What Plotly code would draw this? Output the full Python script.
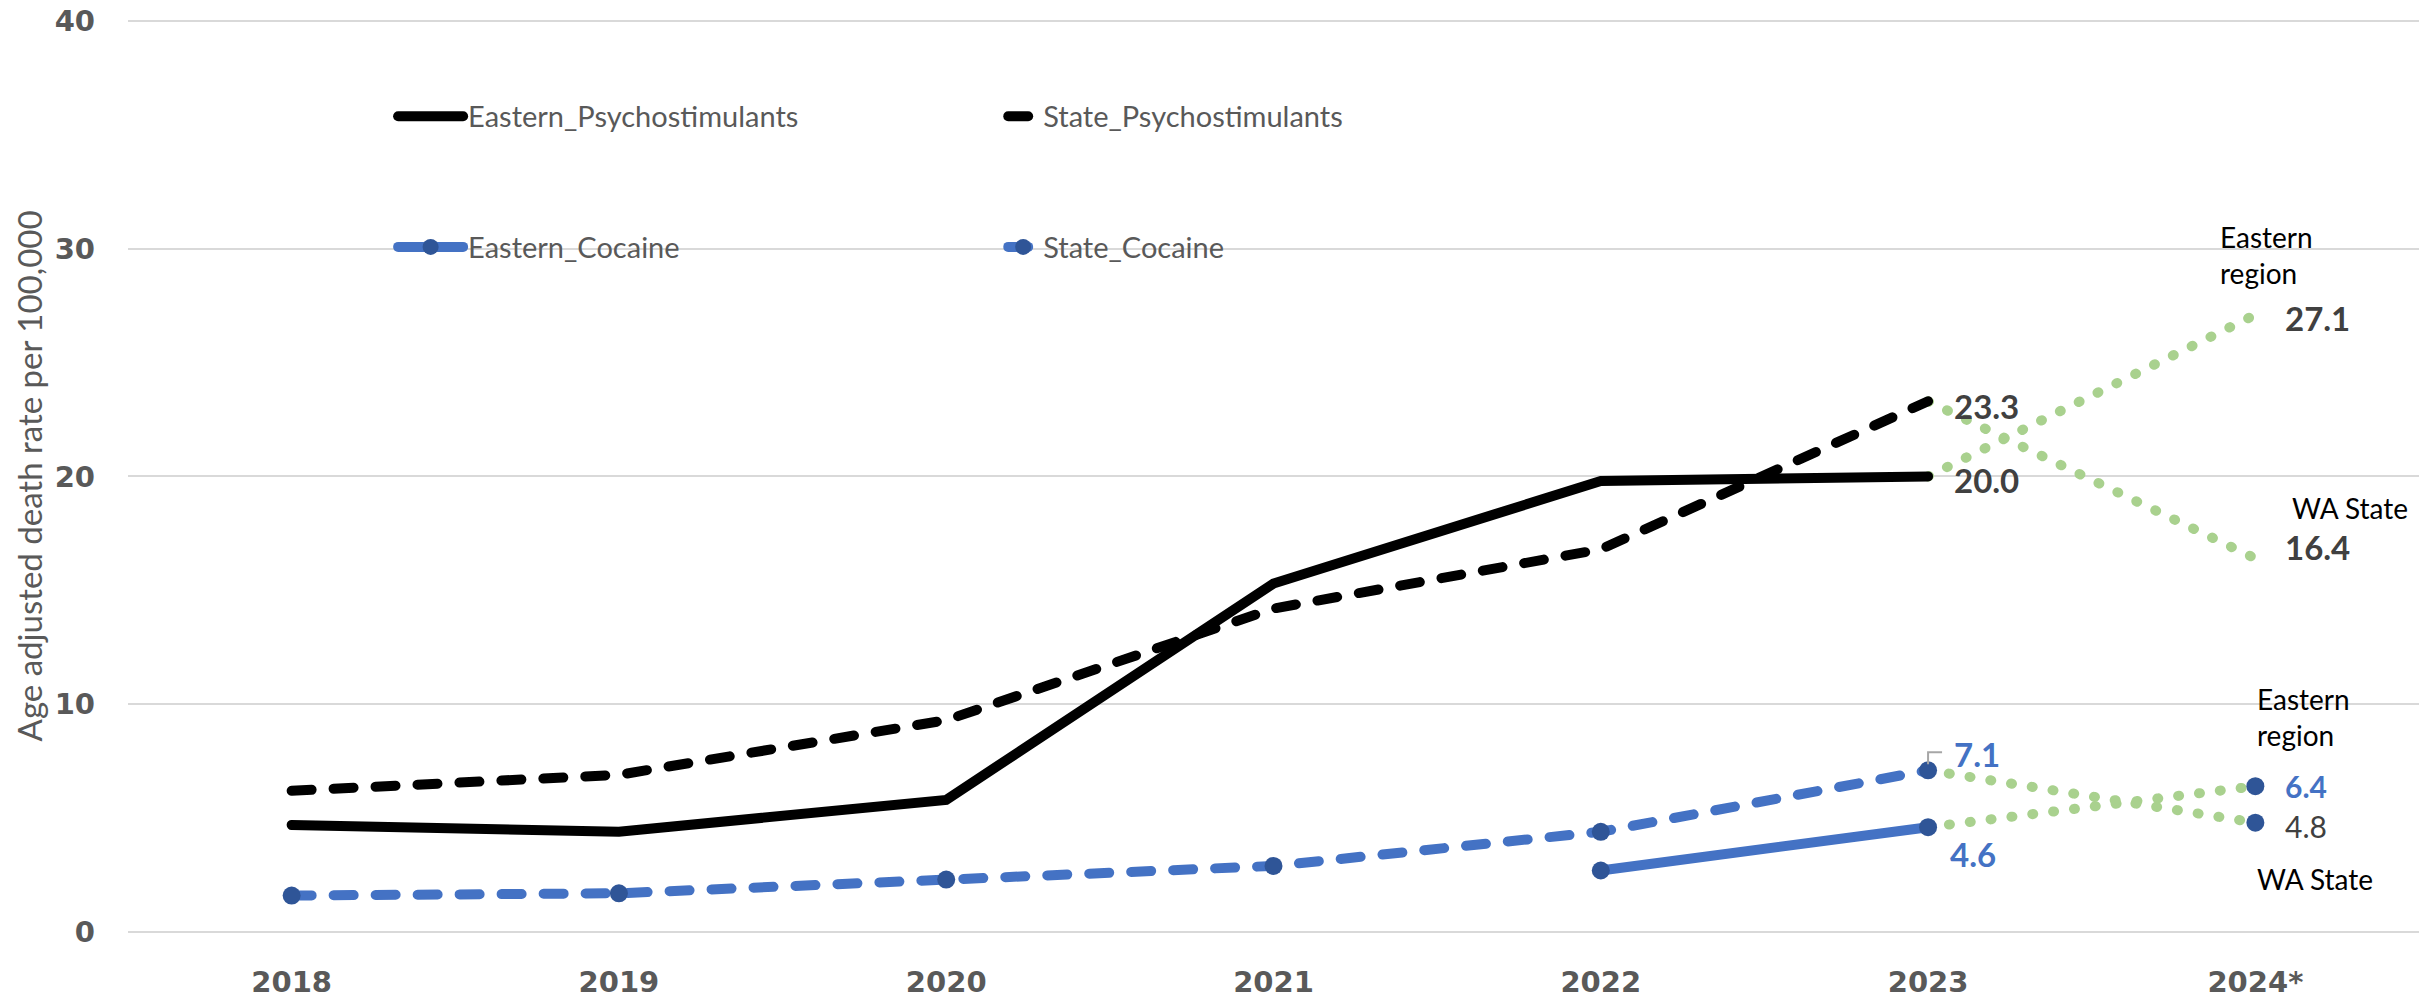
import plotly.graph_objects as go

# ---------------- data ----------------
years = ["2018", "2019", "2020", "2021", "2022", "2023", "2024*"]
hist_years = years[:6]
proj_years = ["2023", "2024*"]

eastern_psycho = [4.7, 4.4, 5.8, 15.3, 19.8, 20.0]
state_psycho = [6.2, 6.9, 9.3, 14.2, 16.8, 23.3]
state_cocaine = [1.6, 1.7, 2.3, 2.9, 4.4, 7.1]
eastern_cocaine_years = ["2022", "2023"]
eastern_cocaine = [2.7, 4.6]

proj_eastern_psycho = [20.0, 27.1]
proj_state_psycho = [23.3, 16.4]
proj_eastern_cocaine = [4.6, 6.4]
proj_state_cocaine = [7.1, 4.8]

y_ticks = [0, 10, 20, 30, 40]

BLACK = "#000000"
BLUE = "#4472C4"
DARKBLUE = "#2F5597"
GREEN = "#A9D18E"
GRAY = "#595959"
DGRAY = "#404040"

TXT = "Lato"
NUM = "DejaVu Sans"

I23 = years.index("2023")
I24 = years.index("2024*")

fig = go.Figure()

# projections (green dotted)
for ys in (proj_eastern_psycho, proj_state_psycho, proj_eastern_cocaine, proj_state_cocaine):
    fig.add_trace(go.Scatter(x=proj_years, y=ys, mode="lines",
                             line=dict(color=GREEN, width=10, dash="1px,20px"),
                             showlegend=False, hoverinfo="skip"))

# main series
fig.add_trace(go.Scatter(x=hist_years, y=eastern_psycho, name="Eastern_Psychostimulants",
                         mode="lines", line=dict(color=BLACK, width=10),
                         legend="legend", legendgroup="a"))
fig.add_trace(go.Scatter(x=eastern_cocaine_years, y=eastern_cocaine, name="Eastern_Cocaine",
                         mode="lines+markers", line=dict(color=BLUE, width=10),
                         marker=dict(color=DARKBLUE, size=18),
                         legend="legend", legendgroup="b"))
fig.add_trace(go.Scatter(x=hist_years, y=state_psycho, name="State_Psychostimulants",
                         mode="lines", line=dict(color=BLACK, width=10, dash="20px,22px"),
                         legend="legend2", legendgroup="c"))
fig.add_trace(go.Scatter(x=hist_years, y=state_cocaine, name="State_Cocaine",
                         mode="lines+markers", line=dict(color=BLUE, width=10, dash="20px,22px"),
                         marker=dict(color=DARKBLUE, size=18),
                         legend="legend2", legendgroup="d"))
# 2024 cocaine projection end points
fig.add_trace(go.Scatter(x=[proj_years[-1], proj_years[-1]],
                         y=[proj_eastern_cocaine[-1], proj_state_cocaine[-1]],
                         mode="markers", marker=dict(color=DARKBLUE, size=18),
                         showlegend=False, hoverinfo="skip"))

# ---------------- labels ----------------
ann = []
def lab(x, y, text, color, bold=True, xshift=0, yshift=0, xanchor="left", size=33, family=TXT):
    ann.append(dict(x=x, y=y, xref="x", yref="y", text=text, showarrow=False,
                    xanchor=xanchor, yanchor="middle", xshift=xshift, yshift=yshift,
                    align="left",
                    font=dict(family=family, size=size, color=color,
                              weight="bold" if bold else "normal")))

lab(I23, state_psycho[-1], "23.3", DGRAY, xshift=24, yshift=-5)
lab(I23, eastern_psycho[-1], "20.0", DGRAY, xshift=24, yshift=-4)
lab(I24, proj_eastern_psycho[-1], "27.1", DGRAY, xshift=28, yshift=-3)
lab(I24, proj_state_psycho[-1], "16.4", DGRAY, xshift=28, yshift=11)
lab(I24, proj_eastern_psycho[-1], "Eastern<br>region", "#000000", bold=False,
    xshift=-37, yshift=60, size=28)
lab(I24, proj_state_psycho[-1], "WA State", "#000000", bold=False,
    xshift=35, yshift=50, size=28)

lab(I23, state_cocaine[-1], "7.1", BLUE, xshift=24, yshift=16)
lab(I23, eastern_cocaine[-1], "4.6", BLUE, xshift=20, yshift=-27)
lab(I24, proj_eastern_cocaine[-1], "6.4", BLUE, xshift=28, yshift=0, size=30)
lab(I24, proj_state_cocaine[-1], "4.8", DGRAY, bold=False, xshift=28, yshift=-3, size=30)
lab(I24, proj_eastern_cocaine[-1], "Eastern<br>region", "#000000", bold=False,
    xshift=0, yshift=69, size=28)
lab(I24, proj_state_cocaine[-1], "WA State", "#000000", bold=False,
    xshift=0, yshift=-56, size=28)

# y-axis title
ann.append(dict(x=0, y=20, xref="paper", yref="y", xshift=-99,
                text="Age adjusted death rate per 100,000", showarrow=False,
                textangle=-90, xanchor="center", yanchor="middle",
                font=dict(family=TXT, size=33, color=GRAY)))

# leader line for the 7.1 label
shapes = [dict(type="path", xref="x", yref="y", xsizemode="pixel", ysizemode="pixel",
               xanchor=I23, yanchor=state_cocaine[-1],
               path="M 0,6 L 0,18 L 14,18",
               line=dict(color="#A6A6A6", width=2))]

legend_font = dict(family=TXT, size=29, color=GRAY)
fig.update_layout(
    width=2435, height=998,
    margin=dict(l=128, r=16, t=14, b=66, autoexpand=False),
    paper_bgcolor="white", plot_bgcolor="white",
    annotations=ann, shapes=shapes,
    legend=dict(x=0.131, y=0.9163, xanchor="left", yanchor="top", orientation="v",
                font=legend_font, bgcolor="rgba(0,0,0,0)", tracegroupgap=90,
                traceorder="grouped", itemwidth=30),
    legend2=dict(x=0.382, y=0.9163, xanchor="left", yanchor="top", orientation="v",
                 font=legend_font, bgcolor="rgba(0,0,0,0)", tracegroupgap=90,
                 traceorder="grouped", itemwidth=30),
    xaxis=dict(type="category", categoryorder="array", categoryarray=years,
               range=[-0.5, 6.5], showgrid=False, zeroline=False, showline=False,
               ticks="", ticklabelstandoff=30, automargin=False,
               tickfont=dict(family=NUM, size=29, color=GRAY, weight="bold")),
    yaxis=dict(range=[0, 40.3], tickvals=y_ticks, showgrid=True,
               gridcolor="#D9D9D9", gridwidth=2,
               zeroline=True, zerolinecolor="#D9D9D9", zerolinewidth=2,
               showline=False, ticks="", ticklabelstandoff=32, automargin=False,
               tickfont=dict(family=NUM, size=29, color=GRAY, weight="bold")),
    showlegend=True,
)

post = """
document.body.style.margin='0';
document.documentElement.style.overflow='hidden';
function rc(){
  document.querySelectorAll('path.js-line').forEach(function(p){p.style.strokeLinecap='round';});
  document.querySelectorAll('.legend .scrollbox').forEach(function(g){g.removeAttribute('clip-path');});
  document.querySelectorAll('.legend g.legendlines path.js-line').forEach(function(p){
    p.setAttribute('d','M-30,0h65'); p.style.strokeWidth='10px';
  });
  document.querySelectorAll('.legend g.legendpoints path.scatterpts').forEach(function(p){
    p.setAttribute('transform','translate(2.5,0)');
  });
}
rc(); var gd=document.getElementsByClassName('plotly-graph-div')[0];
if(gd && gd.on){gd.on('plotly_afterplot', rc);}
"""
fig.write_html("out.html", post_script=post, config={"displayModeBar": False})
